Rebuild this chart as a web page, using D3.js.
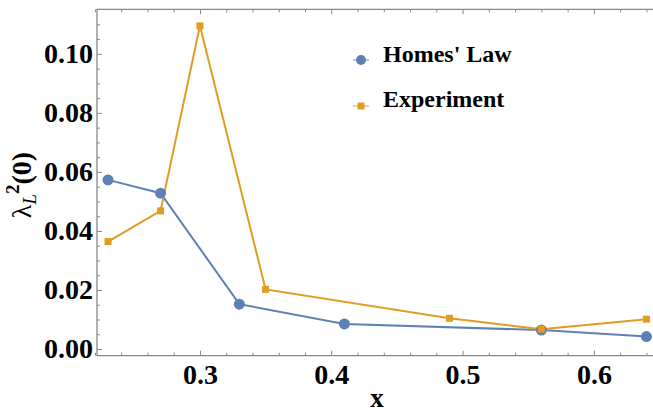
<!DOCTYPE html>
<html>
<head>
<meta charset="utf-8">
<script src="https://cdn.jsdelivr.net/npm/d3@7"></script>
<style>
  body { margin: 0; background: #fff; }
  svg { display: block; }
</style>
</head>
<body>
<script>
// data
const homesX = [0.23, 0.27, 0.33, 0.41, 0.56, 0.64];
const homesY = [0.0573, 0.0528, 0.0152, 0.0085, 0.0064, 0.0042];
const expX = [0.23, 0.27, 0.30, 0.35, 0.49, 0.56, 0.64];
const expY = [0.0364, 0.0468, 0.1095, 0.0202, 0.0104, 0.0067, 0.0101];
const xTicks = [0.3, 0.4, 0.5, 0.6];
const yTicks = [0.00, 0.02, 0.04, 0.06, 0.08, 0.10];
const seriesNames = ["Homes' Law", "Experiment"];

const width = 653, height = 414;
const pLeft = 97, pRight = 653, pTop = 9.3, pBottom = 355.7;
const blue = "#5E81B5", orange = "#E19C24";
const font = "'Liberation Serif', 'Times New Roman', serif";

const svg = d3.select("body").append("svg")
  .attr("width", width)
  .attr("height", height);

const x = d3.scaleLinear().domain([0.2216, 0.645]).range([pLeft, pRight]);
const y = d3.scaleLinear().domain([-0.00227, 0.1151]).range([pBottom, pTop]);

// minor ticks
const xMinor = d3.range(0.22, 0.65, 0.02).filter(v => xTicks.every(t => Math.abs(t - v) > 1e-6));
const yMinor = d3.range(0, 0.115, 0.005).filter(v => yTicks.every(t => Math.abs(t - v) > 1e-6));

function styleAxis(g) {
  g.select(".domain").remove();
  g.selectAll("line").attr("stroke", "#888").attr("stroke-width", 1);
  g.selectAll("text")
    .attr("font-family", font)
    .attr("font-weight", "bold")
    .attr("font-size", 28)
    .attr("fill", "#000");
}

// bottom axis
svg.append("g").attr("transform", `translate(0,${pBottom})`)
  .call(d3.axisBottom(x).tickValues(xTicks).tickSize(-5).tickPadding(7).tickFormat(d3.format(".1f")))
  .call(styleAxis)
  .selectAll("text").attr("dy", "0.75em");
svg.append("g").attr("transform", `translate(0,${pBottom})`)
  .call(d3.axisBottom(x).tickValues(xMinor).tickSize(-3).tickFormat(""))
  .call(styleAxis);

// top ticks
svg.append("g").attr("transform", `translate(0,${pTop})`)
  .call(d3.axisTop(x).tickValues(xTicks).tickSize(-5).tickFormat(""))
  .call(styleAxis);
svg.append("g").attr("transform", `translate(0,${pTop})`)
  .call(d3.axisTop(x).tickValues(xMinor).tickSize(-3).tickFormat(""))
  .call(styleAxis);

// left axis
svg.append("g").attr("transform", `translate(${pLeft},0)`)
  .call(d3.axisLeft(y).tickValues(yTicks).tickSize(-5).tickPadding(4).tickFormat(d3.format(".2f")))
  .call(styleAxis);
svg.append("g").attr("transform", `translate(${pLeft},0)`)
  .call(d3.axisLeft(y).tickValues(yMinor).tickSize(-3).tickFormat(""))
  .call(styleAxis);

// frame
svg.append("path")
  .attr("d", `M${pRight + 1},${pTop}H${pLeft}V${pBottom}H${pRight + 1}`)
  .attr("fill", "none")
  .attr("stroke", "#888")
  .attr("stroke-width", 1.3);

const line = d3.line().x(d => x(d[0])).y(d => y(d[1]));
const homes = homesX.map((v, i) => [v, homesY[i]]);
const exp = expX.map((v, i) => [v, expY[i]]);

svg.append("path").datum(homes)
  .attr("d", line).attr("fill", "none").attr("stroke", blue).attr("stroke-width", 2);
svg.append("path").datum(exp)
  .attr("d", line).attr("fill", "none").attr("stroke", orange).attr("stroke-width", 2);

svg.selectAll("circle.h").data(homes).enter().append("circle")
  .attr("cx", d => x(d[0])).attr("cy", d => y(d[1])).attr("r", 5.5).attr("fill", blue);
svg.selectAll("rect.e").data(exp).enter().append("rect")
  .attr("x", d => x(d[0]) - 3.5).attr("y", d => y(d[1]) - 3.5)
  .attr("width", 7).attr("height", 7).attr("fill", orange);

// legend
const legendTxt = (g, t, dy) => g.append("text").attr("x", 22).attr("y", dy)
  .attr("font-family", font).attr("font-weight", "bold").attr("font-size", 24).text(t);
const lg = svg.append("g").attr("transform", "translate(361,60)");
lg.append("line").attr("x1", -8).attr("x2", 8).attr("stroke", blue).attr("stroke-width", 1.5).attr("opacity", 0.6);
lg.append("circle").attr("r", 5).attr("fill", blue);
legendTxt(lg, seriesNames[0], 2);
const lg2 = svg.append("g").attr("transform", "translate(361,106)");
lg2.append("line").attr("x1", -8).attr("x2", 8).attr("stroke", orange).attr("stroke-width", 1.5).attr("opacity", 0.6);
lg2.append("rect").attr("x", -3.5).attr("y", -3.5).attr("width", 7).attr("height", 7).attr("fill", orange);
legendTxt(lg2, seriesNames[1], 1);

// axis titles
svg.append("text")
  .attr("x", 377).attr("y", 407)
  .attr("text-anchor", "middle")
  .attr("font-family", font).attr("font-weight", "bold").attr("font-size", 27)
  .text("x");

const yl = svg.append("text")
  .attr("transform", "translate(31,185) rotate(-90)")
  .attr("text-anchor", "middle")
  .attr("font-family", font).attr("font-size", 28);
yl.append("tspan").attr("font-style", "normal").text("λ");
yl.append("tspan").attr("font-style", "italic").attr("font-size", 19).attr("dy", 5).text("L");
yl.append("tspan").attr("font-weight", "bold").attr("font-size", 19).attr("dy", -17).text("2");
yl.append("tspan").attr("font-weight", "bold").attr("dy", 12).text("(0)");
</script>
</body>
</html>
